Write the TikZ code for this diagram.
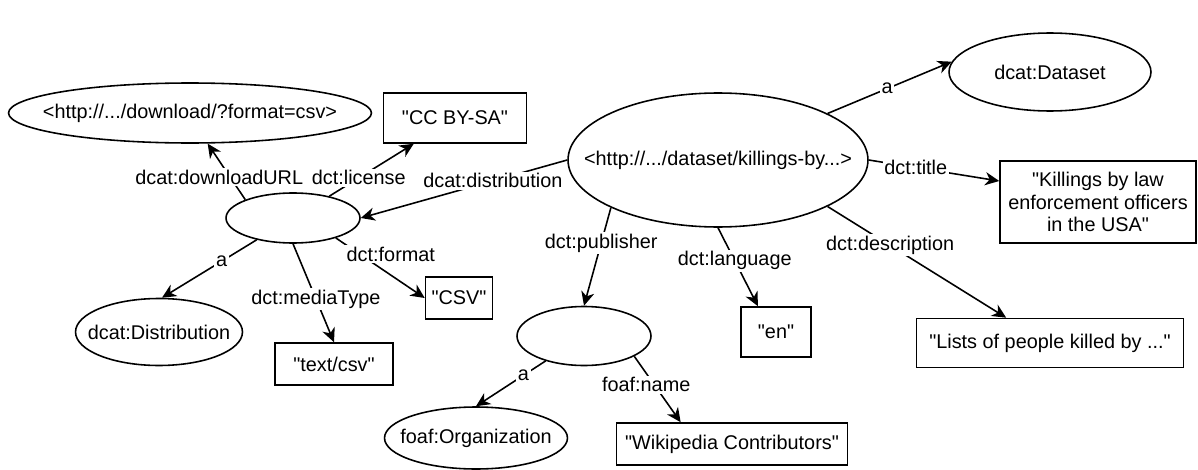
\documentclass[tikz,border=0pt]{standalone}
\usepackage{fontspec}
\setmainfont{Liberation Sans}
\usepackage{tikz}
\usetikzlibrary{shapes.geometric, arrows.meta, positioning}
\newcommand{\quoted}[1]{\textquotedbl#1\textquotedbl}
\tikzstyle{arrow} = [line width=0.9pt,->,>={Stealth[length=8pt,width=7.5pt,inset=2.5pt]}]
\tikzstyle{res} = [draw, line width=0.9pt, ellipse, inner sep=0pt,
  execute at begin node={\hbox to 0pt\bgroup\hss}, execute at end node={\hss\egroup}]
\tikzstyle{lit} = [draw, line width=0.9pt, rectangle, inner sep=0pt, align=center]
\tikzstyle{lbl} = [fill=white, inner sep=1pt]

\begin{document}
\begin{tikzpicture}[x=0.02cm, y=-0.02cm, font=\fontsize{11.3pt}{13pt}\selectfont]
        \useasboundingbox (0,0) rectangle (1198,470);

        % Dataset and its properties
        \node[res, minimum width=6cm, minimum height=2.68cm] (ds) at (718,160) {<http://.../dataset/killings-by...>};
        \node[res, minimum width=4.04cm, minimum height=1.56cm] (dsclass) at (1050,72) {dcat:Dataset};
        \node[lit, minimum width=3.92cm, minimum height=1.64cm] (title) at (1098,202) {\quoted{Killings by law\\enforcement officers\\in the USA}};
        \node[lit, minimum width=5.34cm, minimum height=0.98cm] (descr) at (1050,343) {\quoted{Lists of people killed by ...}};
        \node[lit, minimum width=1.4cm, minimum height=1cm] (lang) at (776,332) {\quoted{en}};

        % Publisher
        \node[res, minimum width=2.68cm, minimum height=1.18cm] (pub) at (584,336) {};
        \node[res, minimum width=3.66cm, minimum height=1.24cm] (org) at (476,438) {foaf:Organization};
        \node[lit, minimum width=4.62cm, minimum height=0.84cm] (wiki) at (732,444) {\quoted{Wikipedia Contributors}};

        % Distribution
        \node[res, minimum width=2.68cm, minimum height=1cm] (dist) at (293,218) {};
        \node[res, minimum width=7.26cm, minimum height=1.2cm] (dl) at (190,113) {<http://.../download/?format=csv>};
        \node[lit, minimum width=2.86cm, minimum height=1cm] (lic) at (455,118) {\quoted{CC BY-SA}};
        \node[res, minimum width=3.34cm, minimum height=1.34cm] (distcls) at (159,332) {dcat:Distribution};
        \node[lit, minimum width=2.36cm, minimum height=0.84cm] (mtype) at (334,364) {\quoted{text/csv}};
        \node[lit, minimum width=1.34cm, minimum height=0.84cm] (csv) at (459,298) {\quoted{CSV}};

        % Edges from the dataset
        \draw[arrow] (ds.23.7) -- node[lbl, pos=0.48] {a} (dsclass.174);
        \draw[arrow] (ds.east) -- node[lbl, pos=0.36] {dct:title} (title.168);
        \draw[arrow] (ds.-23.7) -- node[lbl, pos=0.35] {dct:description} (descr.150);
        \draw[arrow] (ds.south) -- node[lbl, pos=0.42] {dct:language} (lang.125);
        \draw[arrow] (ds.204) -- node[lbl, pos=0.36] {dct:publisher} (pub.north);
        \draw[arrow] (ds.west) -- node[lbl, pos=0.36] {dcat:distribution} (dist.east);

        % Edges from the publisher
        \draw[arrow] (pub.213.7) -- node[lbl, pos=0.32] {a} (org.north);
        \draw[arrow] (pub.-22.4) -- node[lbl, pos=0.43, xshift=-0.16cm] {foaf:name} (wiki.157);

        % Edges from the distribution
        \draw[arrow] (dist.159) -- node[lbl, pos=0.4, xshift=-0.22cm] {dcat:downloadURL} (dl.300);
        \draw[arrow] (dist.31) -- node[lbl, pos=0.35] {dct:license} (lic.212);
        \draw[arrow] (dist.211.4) -- node[lbl, pos=0.37] {a} (distcls.85);
        \draw[arrow] (dist.south) -- node[lbl, pos=0.56] {dct:mediaType} (mtype.north);
        \draw[arrow] (dist.-25) -- node[lbl, pos=0.27, xshift=0.62cm] {dct:format} (csv.west);
    \end{tikzpicture}
\end{document}
